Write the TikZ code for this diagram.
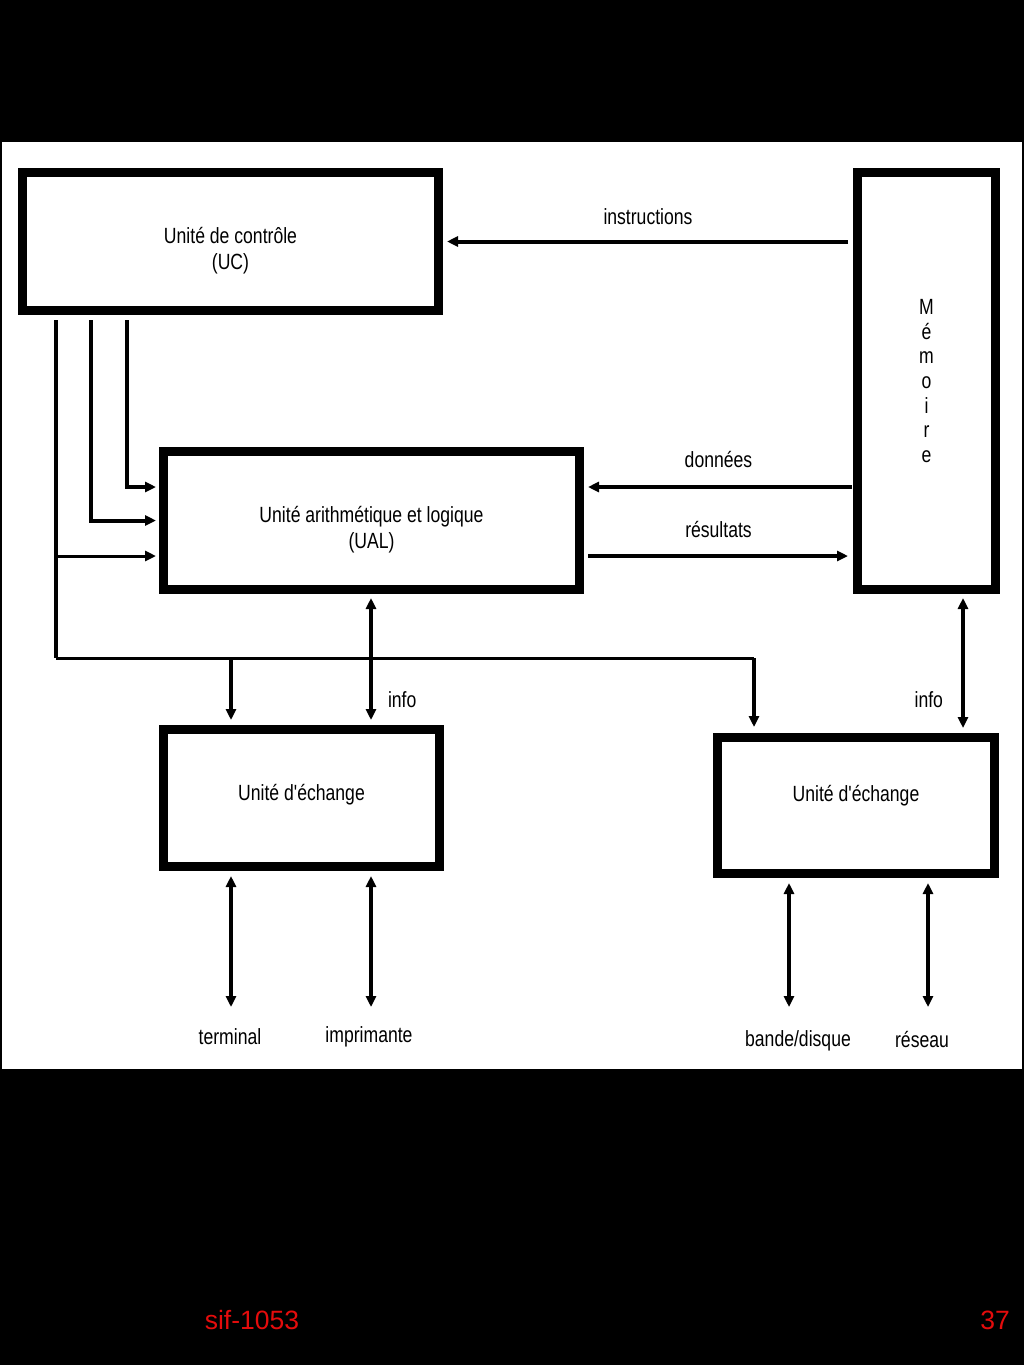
\documentclass[tikz,border=0pt]{standalone}
\usepackage{fontspec}
\setmainfont{Liberation Sans}
\newfontfamily\diagfont[FakeStretch=0.8]{Liberation Sans}
\usetikzlibrary{arrows.meta,positioning}
\definecolor{footred}{RGB}{228,12,12}

\begin{document}
\begin{tikzpicture}[x=1pt,y=-1pt,
    bloc/.style={draw,line width=9pt,inner sep=0pt,align=center,
      font=\diagfont\fontsize{22}{26}\selectfont},
    boxtxt/.style={inner sep=0pt,align=center,font=\diagfont\fontsize{22}{26}\selectfont},
    fil/.style={line width=4pt},
    fleche/.style={line width=4pt,-{Triangle[length=11pt,width=10pt]}},
    bifleche/.style={line width=4pt,{Triangle[length=11pt,width=10pt]}-{Triangle[length=11pt,width=10pt]}},
    lbl/.style={inner sep=0pt,font=\diagfont\fontsize{22}{26}\selectfont}]
    \useasboundingbox (0,0) rectangle (1024,1365);
    \fill[black] (0,0) rectangle (1024,1365);
    \fill[white] (2,142) rectangle (1022,1069);

    \node[bloc,minimum width=416pt,minimum height=138pt,
      label={[boxtxt,yshift=-9pt]center:Unité de contrôle\\(UC)}] (uc) at (230.5,241.5) {};
    \node[bloc,minimum width=416pt,minimum height=138pt,
      label={[boxtxt,yshift=-9pt]center:Unité arithmétique et logique\\(UAL)}] (ual) at (371.5,520.5) {};
    \node[bloc,minimum width=138pt,minimum height=417pt,
      font=\diagfont\fontsize{22}{24.7}\selectfont] (mem) at (926.5,381) {M\\é\\m\\o\\i\\r\\e};
    \node[bloc,minimum width=276pt,minimum height=137pt,
      label={[boxtxt,yshift=3pt]center:Unité d'échange}] (exg) at (301.5,798) {};
    \node[bloc,minimum width=277pt,minimum height=136pt,
      label={[boxtxt,yshift=10pt]center:Unité d'échange}] (exd) at (856,805.5) {};

    \coordinate (don) at ([yshift=33.5pt]ual.east);
    \coordinate (res) at ([yshift=-35.5pt]ual.east);
    \draw[fleche,shorten <=5pt,shorten >=4pt] (uc.east -| mem.west) -- (uc.east)
      node[lbl,midway,above=15pt] {instructions};
    \draw[fleche,shorten <=1pt,shorten >=4pt] (don -| mem.west) -- (don)
      node[lbl,midway,above=17pt] {données};
    \draw[fleche,shorten <=4pt,shorten >=5pt] (res) -- (res -| mem.west)
      node[lbl,midway,above=16pt] {résultats};

    \coordinate (p1) at ([xshift=109pt,yshift=-5pt]uc.south west);
    \coordinate (p2) at ([xshift=73pt,yshift=-5pt]uc.south west);
    \coordinate (p3) at ([xshift=38pt,yshift=-5pt]uc.south west);
    \draw[fleche,shorten >=3pt] (p1) |- ([yshift=33.5pt]ual.west);
    \draw[fleche,shorten >=3pt] (p2) |- (ual.west);
    \draw[fleche,line width=3pt,shorten >=3pt] (p3 |- res) -- (res -| ual.west);

    \coordinate (b0) at (56,658);
    \coordinate (b1) at (754,658);
    \coordinate (eg1) at ([xshift=-70.5pt]exg.north);
    \coordinate (eg2) at ([xshift=69.5pt]exg.north);
    \coordinate (m1) at ([xshift=36.5pt]mem.south);
    \draw[fil] (p3) -- (b0);
    \draw[fil,line width=3pt] (b0) -- (b1);
    \draw[fleche,shorten >=6pt] (b1) -- (b1 |- exd.north);
    \draw[fleche,shorten >=5pt] (eg1 |- b0) -- (eg1);

    \draw[bifleche,shorten <=4pt,shorten >=5pt] (eg2 |- ual.south) -- (eg2)
      node[lbl,pos=0.81,right=15pt] {info};
    \draw[bifleche,shorten <=4pt,shorten >=5pt] (m1) -- (m1 |- exd.north)
      node[lbl,pos=0.76,left=18pt] {info};

    \coordinate (t1) at (231,1007);
    \coordinate (t2) at (371,1007);
    \coordinate (t3) at (789,1007);
    \coordinate (t4) at (928,1007);
    \draw[bifleche,shorten <=5pt] (t1 |- exg.south) -- (t1);
    \draw[bifleche,shorten <=5pt] (t2 |- exg.south) -- (t2);
    \draw[bifleche,shorten <=5pt] (t3 |- exd.south) -- (t3);
    \draw[bifleche,shorten <=5pt] (t4 |- exd.south) -- (t4);
    \node[lbl] (terminal) at (230,1037) {terminal};
    \node[lbl] (imprimante) at (369,1037) {imprimante};
    \node[lbl] (bande) at (798,1041) {bande/disque};
    \node[lbl] (reseau) at (922,1039) {réseau};

    \node[text=footred,font=\fontsize{26.5}{30}\selectfont] (sif) at (252,1320) {sif-1053};
    \node[text=footred,font=\fontsize{26.5}{30}\selectfont] (page) at (995,1320) {37};
  \end{tikzpicture}
\end{document}
